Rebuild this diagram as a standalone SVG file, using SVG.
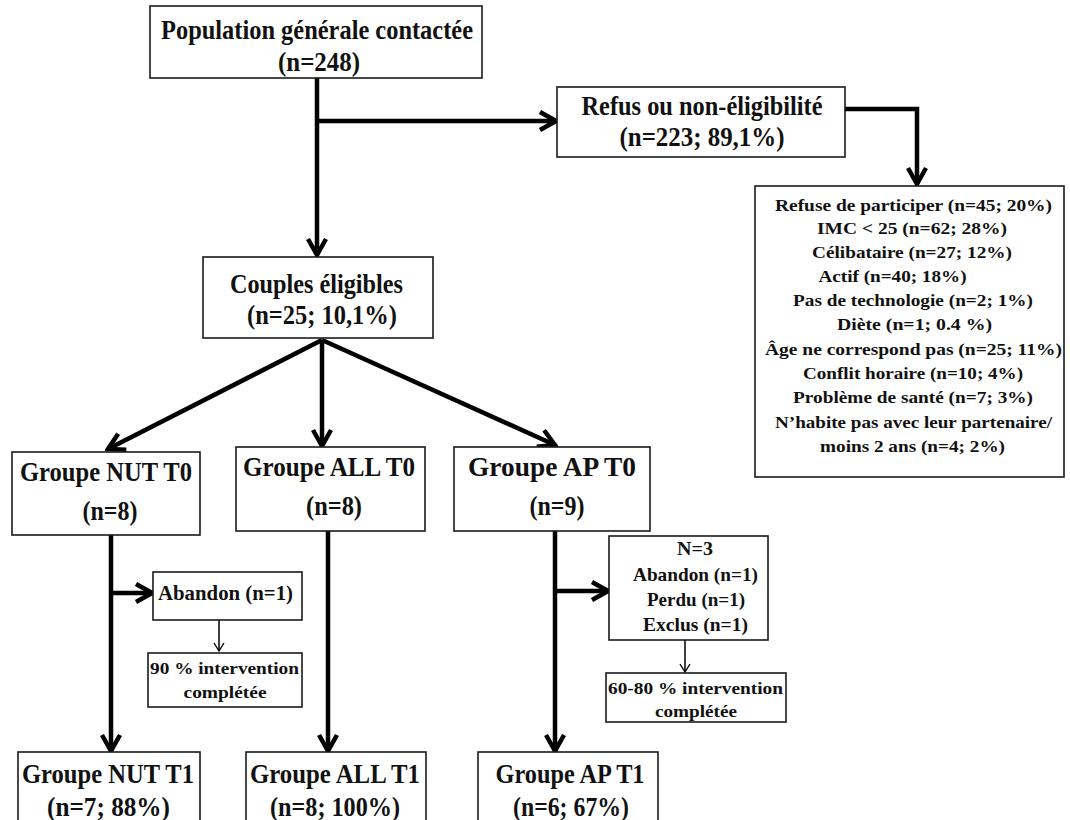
<svg xmlns="http://www.w3.org/2000/svg" width="1070" height="820" viewBox="0 0 1070 820">
<defs>
<style>
.box{fill:#fff;stroke:#1a1a1a;stroke-width:1.6}
text{font-family:"Liberation Serif","Times New Roman",serif;font-weight:bold;fill:#111;text-anchor:middle}
.big{font-size:27px}
.mid{font-size:20px}
.sm{font-size:19px}
.t26{font-size:26px}
.thick{stroke:#000;stroke-width:4.5;fill:none}
.thin{stroke:#000;stroke-width:1.5;fill:none}
</style>
<marker id="ah" viewBox="0 0 22 24" refX="19" refY="12" markerWidth="22" markerHeight="24" markerUnits="userSpaceOnUse" orient="auto">
<path d="M3,3 L19,12 L3,21" fill="none" stroke="#000" stroke-width="4.5" stroke-linejoin="miter"/>
</marker>
<marker id="ahs" viewBox="0 0 12 12" refX="10" refY="6" markerWidth="12" markerHeight="12" markerUnits="userSpaceOnUse" orient="auto">
<path d="M2,1 L10,6 L2,11" fill="none" stroke="#000" stroke-width="1.4"/>
</marker>
</defs>
<rect width="1070" height="820" fill="#fff"/>

<g id="connectors">
<line class="thick" x1="317" y1="78" x2="317" y2="255" marker-end="url(#ah)"/>
<line class="thick" x1="317" y1="121" x2="556" y2="121" marker-end="url(#ah)"/>
<polyline class="thick" points="845,109 917,109 917,184" marker-end="url(#ah)"/>
<line class="thick" x1="322" y1="340" x2="108" y2="449" marker-end="url(#ah)"/>
<line class="thick" x1="322" y1="340" x2="322" y2="446" marker-end="url(#ah)"/>
<line class="thick" x1="322" y1="340" x2="555" y2="445" marker-end="url(#ah)"/>
<line class="thick" x1="111" y1="535" x2="111" y2="751" marker-end="url(#ah)"/>
<line class="thick" x1="111" y1="593" x2="152" y2="593" marker-end="url(#ah)"/>
<line class="thick" x1="328" y1="531" x2="328" y2="751" marker-end="url(#ah)"/>
<line class="thick" x1="555" y1="531" x2="555" y2="751" marker-end="url(#ah)"/>
<line class="thick" x1="555" y1="591" x2="608" y2="591" marker-end="url(#ah)"/>
<line class="thin" x1="219" y1="620" x2="219" y2="651" marker-end="url(#ahs)"/>
<line class="thin" x1="685" y1="640" x2="685" y2="672" marker-end="url(#ahs)"/>
</g>

<g id="n-population">
<rect class="box" x="150" y="6" width="332" height="72"/>
<text class="big" x="317" y="39" textLength="312" lengthAdjust="spacingAndGlyphs">Population générale contactée</text>
<text class="big" x="319" y="71" textLength="82" lengthAdjust="spacingAndGlyphs">(n=248)</text>
</g>

<g id="n-refus">
<rect class="box" x="557" y="87" width="288" height="70"/>
<text class="big" x="702" y="115" textLength="241" lengthAdjust="spacingAndGlyphs">Refus ou non-éligibilité</text>
<text class="big" x="702" y="146" textLength="165" lengthAdjust="spacingAndGlyphs">(n=223; 89,1%)</text>
</g>

<g id="n-raisons">
<rect class="box" x="755" y="186" width="309" height="291"/>
<text class="t26" transform="translate(913.5,211) scale(0.67)" textLength="413.4" lengthAdjust="spacingAndGlyphs">Refuse de participer (n=45; 20%)</text>
<text class="t26" transform="translate(912,234) scale(0.67)" textLength="283.6" lengthAdjust="spacingAndGlyphs">IMC &lt; 25 (n=62; 28%)</text>
<text class="t26" transform="translate(912,258) scale(0.67)" textLength="298.5" lengthAdjust="spacingAndGlyphs">Célibataire (n=27; 12%)</text>
<text class="t26" transform="translate(892.5,282) scale(0.67)" textLength="220.9" lengthAdjust="spacingAndGlyphs">Actif (n=40; 18%)</text>
<text class="t26" transform="translate(913,306) scale(0.67)" textLength="358.2" lengthAdjust="spacingAndGlyphs">Pas de technologie (n=2; 1%)</text>
<text class="t26" transform="translate(914.5,330) scale(0.67)" textLength="231.3" lengthAdjust="spacingAndGlyphs">Diète (n=1; 0.4 %)</text>
<text class="t26" transform="translate(913.5,355) scale(0.67)" textLength="443.3" lengthAdjust="spacingAndGlyphs">Âge ne correspond pas (n=25; 11%)</text>
<text class="t26" transform="translate(913,379) scale(0.67)" textLength="328.4" lengthAdjust="spacingAndGlyphs">Conflit horaire (n=10; 4%)</text>
<text class="t26" transform="translate(913,403) scale(0.67)" textLength="358.2" lengthAdjust="spacingAndGlyphs">Problème de santé (n=7; 3%)</text>
<text class="t26" transform="translate(913.5,428) scale(0.67)" textLength="413.4" lengthAdjust="spacingAndGlyphs">N’habite pas avec leur partenaire/</text>
<text class="t26" transform="translate(912.5,452) scale(0.67)" textLength="276.1" lengthAdjust="spacingAndGlyphs">moins 2 ans (n=4; 2%)</text>
</g>

<g id="n-couples">
<rect class="box" x="203" y="257" width="230" height="81"/>
<text class="big" x="316.5" y="293" textLength="173" lengthAdjust="spacingAndGlyphs">Couples éligibles</text>
<text class="big" x="322" y="324" textLength="150" lengthAdjust="spacingAndGlyphs">(n=25; 10,1%)</text>
</g>

<g id="n-nut-t0">
<rect class="box" x="12" y="452" width="188" height="83"/>
<text class="big" x="106" y="481" textLength="172" lengthAdjust="spacingAndGlyphs">Groupe NUT T0</text>
<text class="big" x="110" y="520" textLength="55" lengthAdjust="spacingAndGlyphs">(n=8)</text>
</g>

<g id="n-all-t0">
<rect class="box" x="236" y="447" width="189" height="84"/>
<text class="big" x="329" y="476" textLength="172" lengthAdjust="spacingAndGlyphs">Groupe ALL T0</text>
<text class="big" x="334" y="515" textLength="56" lengthAdjust="spacingAndGlyphs">(n=8)</text>
</g>

<g id="n-ap-t0">
<rect class="box" x="454" y="447" width="196" height="84"/>
<text class="big" x="552" y="476" textLength="168" lengthAdjust="spacingAndGlyphs">Groupe AP T0</text>
<text class="big" x="557" y="515" textLength="55" lengthAdjust="spacingAndGlyphs">(n=9)</text>
</g>

<g id="n-nut-abandon">
<rect class="box" x="153" y="572" width="149" height="48"/>
<text class="mid" font-family="Liberation Serif" x="225.5" y="600" textLength="135" lengthAdjust="spacingAndGlyphs">Abandon (n=1)</text>
</g>

<g id="n-nut-complete">
<rect class="box" x="148" y="653" width="154" height="54"/>
<text class="t26" transform="translate(224.5,674) scale(0.654)" textLength="227.8" lengthAdjust="spacingAndGlyphs">90 % intervention</text>
<text class="t26" transform="translate(225,698) scale(0.654)" textLength="126.9" lengthAdjust="spacingAndGlyphs">complétée</text>
</g>

<g id="n-ap-sorties">
<rect class="box" x="609" y="536" width="159" height="104"/>
<text class="sm" font-family="Liberation Serif" x="695" y="555" textLength="36" lengthAdjust="spacingAndGlyphs">N=3</text>
<text class="sm" font-family="Liberation Serif" x="695.5" y="581" textLength="125" lengthAdjust="spacingAndGlyphs">Abandon (n=1)</text>
<text class="sm" font-family="Liberation Serif" x="696" y="606" textLength="98" lengthAdjust="spacingAndGlyphs">Perdu (n=1)</text>
<text class="sm" font-family="Liberation Serif" x="695.5" y="631" textLength="105" lengthAdjust="spacingAndGlyphs">Exclus (n=1)</text>
</g>

<g id="n-ap-complete">
<rect class="box" x="606" y="673" width="180" height="49"/>
<text class="t26" transform="translate(695.5,694) scale(0.654)" textLength="267.6" lengthAdjust="spacingAndGlyphs">60-80 % intervention</text>
<text class="t26" transform="translate(696,717) scale(0.654)" textLength="125.4" lengthAdjust="spacingAndGlyphs">complétée</text>
</g>

<g id="n-nut-t1">
<rect class="box" x="18" y="752" width="182" height="80"/>
<text class="big" x="108" y="783" textLength="172" lengthAdjust="spacingAndGlyphs">Groupe NUT T1</text>
<text class="big" x="108.5" y="816" textLength="123" lengthAdjust="spacingAndGlyphs">(n=7; 88%)</text>
</g>

<g id="n-all-t1">
<rect class="box" x="246" y="752" width="180" height="80"/>
<text class="big" x="335" y="783" textLength="170" lengthAdjust="spacingAndGlyphs">Groupe ALL T1</text>
<text class="big" x="335" y="816" textLength="130" lengthAdjust="spacingAndGlyphs">(n=8; 100%)</text>
</g>

<g id="n-ap-t1">
<rect class="box" x="478" y="752" width="180" height="80"/>
<text class="big" x="570" y="783" textLength="149" lengthAdjust="spacingAndGlyphs">Groupe AP T1</text>
<text class="big" x="571" y="816" textLength="116" lengthAdjust="spacingAndGlyphs">(n=6; 67%)</text>
</g>
</svg>
